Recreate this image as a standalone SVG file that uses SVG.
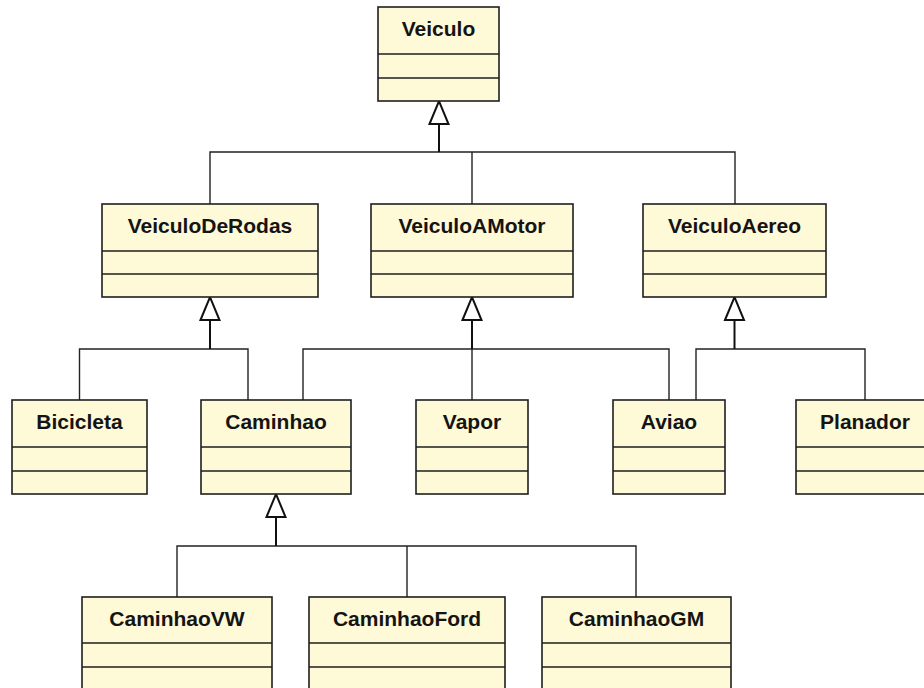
<svg xmlns="http://www.w3.org/2000/svg" width="924" height="688" viewBox="0 0 924 688">
  <style>
    .box { fill: #fef9d6; stroke: #1e1e1e; stroke-width: 1.6; }
    .sep { stroke: #1e1e1e; stroke-width: 1.6; }
    .name { font-family: "Liberation Sans", Arial, sans-serif; font-weight: bold; font-size: 21px; fill: #141414; text-anchor: middle; }
    .wire { fill: none; stroke: #222; stroke-width: 1.4; }
    .stem { fill: none; stroke: #111; stroke-width: 2; }
  </style>
  <defs>
    <!-- hollow generalization head, tip at the end of the stem -->
    <marker id="gen" markerUnits="userSpaceOnUse" viewBox="-2 -2 27 23" markerWidth="27" markerHeight="23" refX="23" refY="9.5" orient="auto" overflow="visible">
      <path d="M0,0 L23,9.5 L0,19 Z" fill="#fff" stroke="#111" stroke-width="2" stroke-linejoin="miter"/>
    </marker>
  </defs>
  <rect width="924" height="688" fill="#fff"/>

  <!-- inheritance connectors -->
  <g id="connectors">
    <path class="wire" d="M210 204 V152 H735 V204 M472 152 V204"/>
    <path class="stem" d="M439 152 V101" marker-end="url(#gen)"/>

    <path class="wire" d="M79.5 400 V349 H248 V400"/>
    <path class="stem" d="M210 349 V297" marker-end="url(#gen)"/>

    <path class="wire" d="M303 400 V349 H669 V400 M472 349 V400"/>
    <path class="stem" d="M472 349 V297" marker-end="url(#gen)"/>

    <path class="wire" d="M696 400 V349 H865 V400"/>
    <path class="stem" d="M734.5 349 V297" marker-end="url(#gen)"/>

    <path class="wire" d="M177 597 V546 H636 V597 M407 546 V597"/>
    <path class="stem" d="M276 546 V494" marker-end="url(#gen)"/>
  </g>

  <!-- classes -->
  <g id="Veiculo">
    <rect class="box" x="378" y="7" width="121" height="94"/>
    <line class="sep" x1="378" y1="54" x2="499" y2="54"/>
    <line class="sep" x1="378" y1="78" x2="499" y2="78"/>
    <text class="name" x="438.5" y="36">Veiculo</text>
  </g>

  <g id="VeiculoDeRodas">
    <rect class="box" x="102" y="204" width="216" height="93"/>
    <line class="sep" x1="102" y1="251" x2="318" y2="251"/>
    <line class="sep" x1="102" y1="274" x2="318" y2="274"/>
    <text class="name" x="210" y="233">VeiculoDeRodas</text>
  </g>

  <g id="VeiculoAMotor">
    <rect class="box" x="371" y="204" width="202" height="93"/>
    <line class="sep" x1="371" y1="251" x2="573" y2="251"/>
    <line class="sep" x1="371" y1="274" x2="573" y2="274"/>
    <text class="name" x="472" y="233">VeiculoAMotor</text>
  </g>

  <g id="VeiculoAereo">
    <rect class="box" x="643" y="204" width="183" height="93"/>
    <line class="sep" x1="643" y1="251" x2="826" y2="251"/>
    <line class="sep" x1="643" y1="274" x2="826" y2="274"/>
    <text class="name" x="734.5" y="233">VeiculoAereo</text>
  </g>

  <g id="Bicicleta">
    <rect class="box" x="12" y="400" width="135" height="94"/>
    <line class="sep" x1="12" y1="447" x2="147" y2="447"/>
    <line class="sep" x1="12" y1="471" x2="147" y2="471"/>
    <text class="name" x="79.5" y="429">Bicicleta</text>
  </g>

  <g id="Caminhao">
    <rect class="box" x="201" y="400" width="150" height="94"/>
    <line class="sep" x1="201" y1="447" x2="351" y2="447"/>
    <line class="sep" x1="201" y1="471" x2="351" y2="471"/>
    <text class="name" x="276" y="429">Caminhao</text>
  </g>

  <g id="Vapor">
    <rect class="box" x="416" y="400" width="112" height="94"/>
    <line class="sep" x1="416" y1="447" x2="528" y2="447"/>
    <line class="sep" x1="416" y1="471" x2="528" y2="471"/>
    <text class="name" x="472" y="429">Vapor</text>
  </g>

  <g id="Aviao">
    <rect class="box" x="613" y="400" width="112" height="94"/>
    <line class="sep" x1="613" y1="447" x2="725" y2="447"/>
    <line class="sep" x1="613" y1="471" x2="725" y2="471"/>
    <text class="name" x="669" y="429">Aviao</text>
  </g>

  <g id="Planador">
    <rect class="box" x="796" y="400" width="138" height="94"/>
    <line class="sep" x1="796" y1="447" x2="934" y2="447"/>
    <line class="sep" x1="796" y1="471" x2="934" y2="471"/>
    <text class="name" x="865" y="429">Planador</text>
  </g>

  <g id="CaminhaoVW">
    <rect class="box" x="82" y="597" width="190" height="94"/>
    <line class="sep" x1="82" y1="643" x2="272" y2="643"/>
    <line class="sep" x1="82" y1="667" x2="272" y2="667"/>
    <text class="name" x="177" y="626">CaminhaoVW</text>
  </g>

  <g id="CaminhaoFord">
    <rect class="box" x="309" y="597" width="196" height="94"/>
    <line class="sep" x1="309" y1="643" x2="505" y2="643"/>
    <line class="sep" x1="309" y1="667" x2="505" y2="667"/>
    <text class="name" x="407" y="626">CaminhaoFord</text>
  </g>

  <g id="CaminhaoGM">
    <rect class="box" x="542" y="597" width="189" height="94"/>
    <line class="sep" x1="542" y1="643" x2="731" y2="643"/>
    <line class="sep" x1="542" y1="667" x2="731" y2="667"/>
    <text class="name" x="636.5" y="626">CaminhaoGM</text>
  </g>
</svg>
